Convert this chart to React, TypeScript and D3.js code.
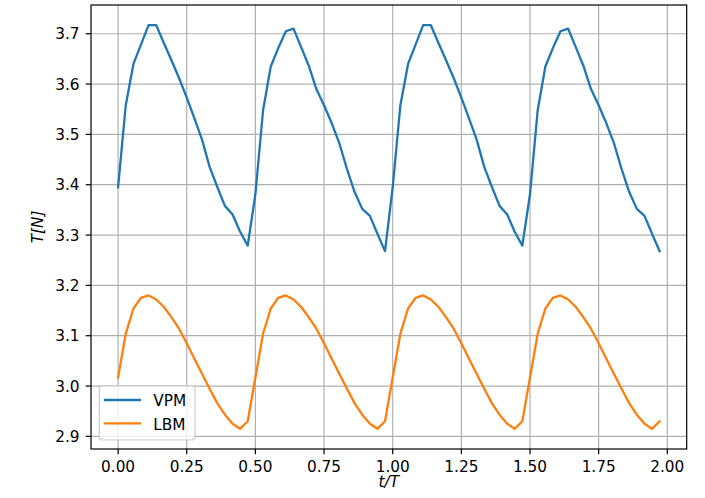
import React from "react";
import * as d3 from "d3";

const tValues = [
  0.000, 0.028, 0.056, 0.083, 0.111, 0.139, 0.167, 0.194, 0.222, 0.250, 0.278, 0.306,
  0.333, 0.361, 0.389, 0.417, 0.444, 0.472, 0.500, 0.528, 0.556, 0.583, 0.611, 0.639,
  0.667, 0.694, 0.722, 0.750, 0.778, 0.806, 0.833, 0.861, 0.889, 0.917, 0.944, 0.972,
  1.000, 1.028, 1.056, 1.083, 1.111, 1.139, 1.167, 1.194, 1.222, 1.250, 1.278, 1.306,
  1.333, 1.361, 1.389, 1.417, 1.444, 1.472, 1.500, 1.528, 1.556, 1.583, 1.611, 1.639,
  1.667, 1.694, 1.722, 1.750, 1.778, 1.806, 1.833, 1.861, 1.889, 1.917, 1.944, 1.972,
];

const vpm = [
  3.395, 3.558, 3.640, 3.678, 3.717, 3.717, 3.681, 3.648, 3.612, 3.573, 3.532, 3.489,
  3.436, 3.396, 3.358, 3.341, 3.307, 3.279, 3.381, 3.548, 3.635, 3.671, 3.705, 3.710,
  3.673, 3.637, 3.590, 3.558, 3.522, 3.482, 3.432, 3.386, 3.352, 3.338, 3.303, 3.268,
  3.395, 3.558, 3.640, 3.678, 3.717, 3.717, 3.681, 3.648, 3.612, 3.573, 3.532, 3.489,
  3.436, 3.396, 3.358, 3.341, 3.307, 3.279, 3.381, 3.548, 3.635, 3.671, 3.705, 3.710,
  3.673, 3.637, 3.590, 3.558, 3.522, 3.482, 3.432, 3.386, 3.352, 3.338, 3.303, 3.268,
];

const lbm = [
  3.017, 3.104, 3.154, 3.175, 3.180, 3.172, 3.157, 3.137, 3.114, 3.085, 3.054, 3.024,
  2.995, 2.966, 2.943, 2.925, 2.915, 2.930, 3.017, 3.104, 3.154, 3.175, 3.180, 3.172,
  3.157, 3.137, 3.114, 3.085, 3.054, 3.024, 2.995, 2.966, 2.943, 2.925, 2.915, 2.930,
  3.017, 3.104, 3.154, 3.175, 3.180, 3.172, 3.157, 3.137, 3.114, 3.085, 3.054, 3.024,
  2.995, 2.966, 2.943, 2.925, 2.915, 2.930, 3.017, 3.104, 3.154, 3.175, 3.180, 3.172,
  3.157, 3.137, 3.114, 3.085, 3.054, 3.024, 2.995, 2.966, 2.943, 2.925, 2.915, 2.930,
];

const xTicks = [0, 0.25, 0.5, 0.75, 1.0, 1.25, 1.5, 1.75, 2.0];
const yTicks = [2.9, 3.0, 3.1, 3.2, 3.3, 3.4, 3.5, 3.6, 3.7];
const seriesNames = ["VPM", "LBM"];
const seriesColors = ["#1f77b4", "#ff7f0e"];
const xLabel = "t/T";
const yLabel = "T[N]";

const W = 705;
const H = 498;
const L = 91;
const R = 686.7;
const T = 5;
const B = 449;
const FONT = "'DejaVu Sans', sans-serif";
const FS = 15.3;

export default function App() {
  const xMin = d3.min(tValues)!;
  const xMax = d3.max(tValues)!;
  const xPad = (xMax - xMin) * 0.05;
  const allY = vpm.concat(lbm);
  const yMin = d3.min(allY)!;
  const yMax = d3.max(allY)!;
  const yPad = (yMax - yMin) * 0.05;

  const x = d3.scaleLinear().domain([xMin - xPad, xMax + xPad]).range([L, R]);
  const y = d3.scaleLinear().domain([yMin - yPad, yMax + yPad]).range([B, T]);

  const line = d3
    .line<number>()
    .x((_, i) => x(tValues[i]))
    .y((d) => y(d));

  const series = [vpm, lbm];

  return (
    <svg width={W} height={H} style={{ display: "block", position: "absolute", left: 0, top: 0 }} fontFamily={FONT}>
      <rect x={0} y={0} width={W} height={H} fill="#ffffff" />
      <defs>
        <clipPath id="clip">
          <rect x={L} y={T} width={R - L} height={B - T} />
        </clipPath>
      </defs>
      {/* grid */}
      {xTicks.map((t) => (
        <line key={"gx" + t} x1={x(t)} x2={x(t)} y1={T} y2={B} stroke="#b0b0b0" strokeWidth={1.2} />
      ))}
      {yTicks.map((t) => (
        <line key={"gy" + t} x1={L} x2={R} y1={y(t)} y2={y(t)} stroke="#b0b0b0" strokeWidth={1.2} />
      ))}
      {/* lines */}
      <g clipPath="url(#clip)">
        {series.map((s, k) => (
          <path
            key={seriesNames[k]}
            d={line(s) || ""}
            fill="none"
            stroke={seriesColors[k]}
            strokeWidth={2.3}
            strokeLinejoin="round"
            strokeLinecap="square"
          />
        ))}
      </g>
      {/* spines */}
      <rect x={L} y={T} width={R - L} height={B - T} fill="none" stroke="#000" strokeWidth={1.2} />
      {/* x ticks */}
      {xTicks.map((t) => (
        <g key={"xt" + t}>
          <line x1={x(t)} x2={x(t)} y1={B} y2={B + 5.3} stroke="#000" strokeWidth={1.2} />
          <text x={x(t)} y={472} textAnchor="middle" fontSize={FS} fill="#000">
            {d3.format(".2f")(t)}
          </text>
        </g>
      ))}
      {/* y ticks */}
      {yTicks.map((t) => (
        <g key={"yt" + t}>
          <line x1={L - 5.3} x2={L} y1={y(t)} y2={y(t)} stroke="#000" strokeWidth={1.2} />
          <text x={79.5} y={y(t) + 5.6} textAnchor="end" fontSize={FS} fill="#000">
            {d3.format(".1f")(t)}
          </text>
        </g>
      ))}
      {/* axis labels */}
      <text x={(L + R) / 2} y={487} textAnchor="middle" fontSize={FS} fontStyle="italic" fill="#000">
        {xLabel}
      </text>
      <text
        transform={`translate(42.5, ${(T + B) / 2}) rotate(-90)`}
        textAnchor="middle"
        fontSize={FS}
        fontStyle="italic"
        fill="#000"
      >
        {yLabel}
      </text>
      {/* legend */}
      <rect
        x={99.3}
        y={386}
        width={95.7}
        height={54}
        rx={3}
        ry={3}
        fill="#ffffff"
        fillOpacity={0.8}
        stroke="#cccccc"
        strokeWidth={1.2}
      />
      {seriesNames.map((n, k) => (
        <g key={"lg" + n}>
          <line
            x1={105}
            x2={140}
            y1={400 + k * 23.3}
            y2={400 + k * 23.3}
            stroke={seriesColors[k]}
            strokeWidth={2.3}
            strokeLinecap="square"
          />
          <text x={153.3} y={406 + k * 24} fontSize={FS} fill="#000">
            {n}
          </text>
        </g>
      ))}
    </svg>
  );
}
